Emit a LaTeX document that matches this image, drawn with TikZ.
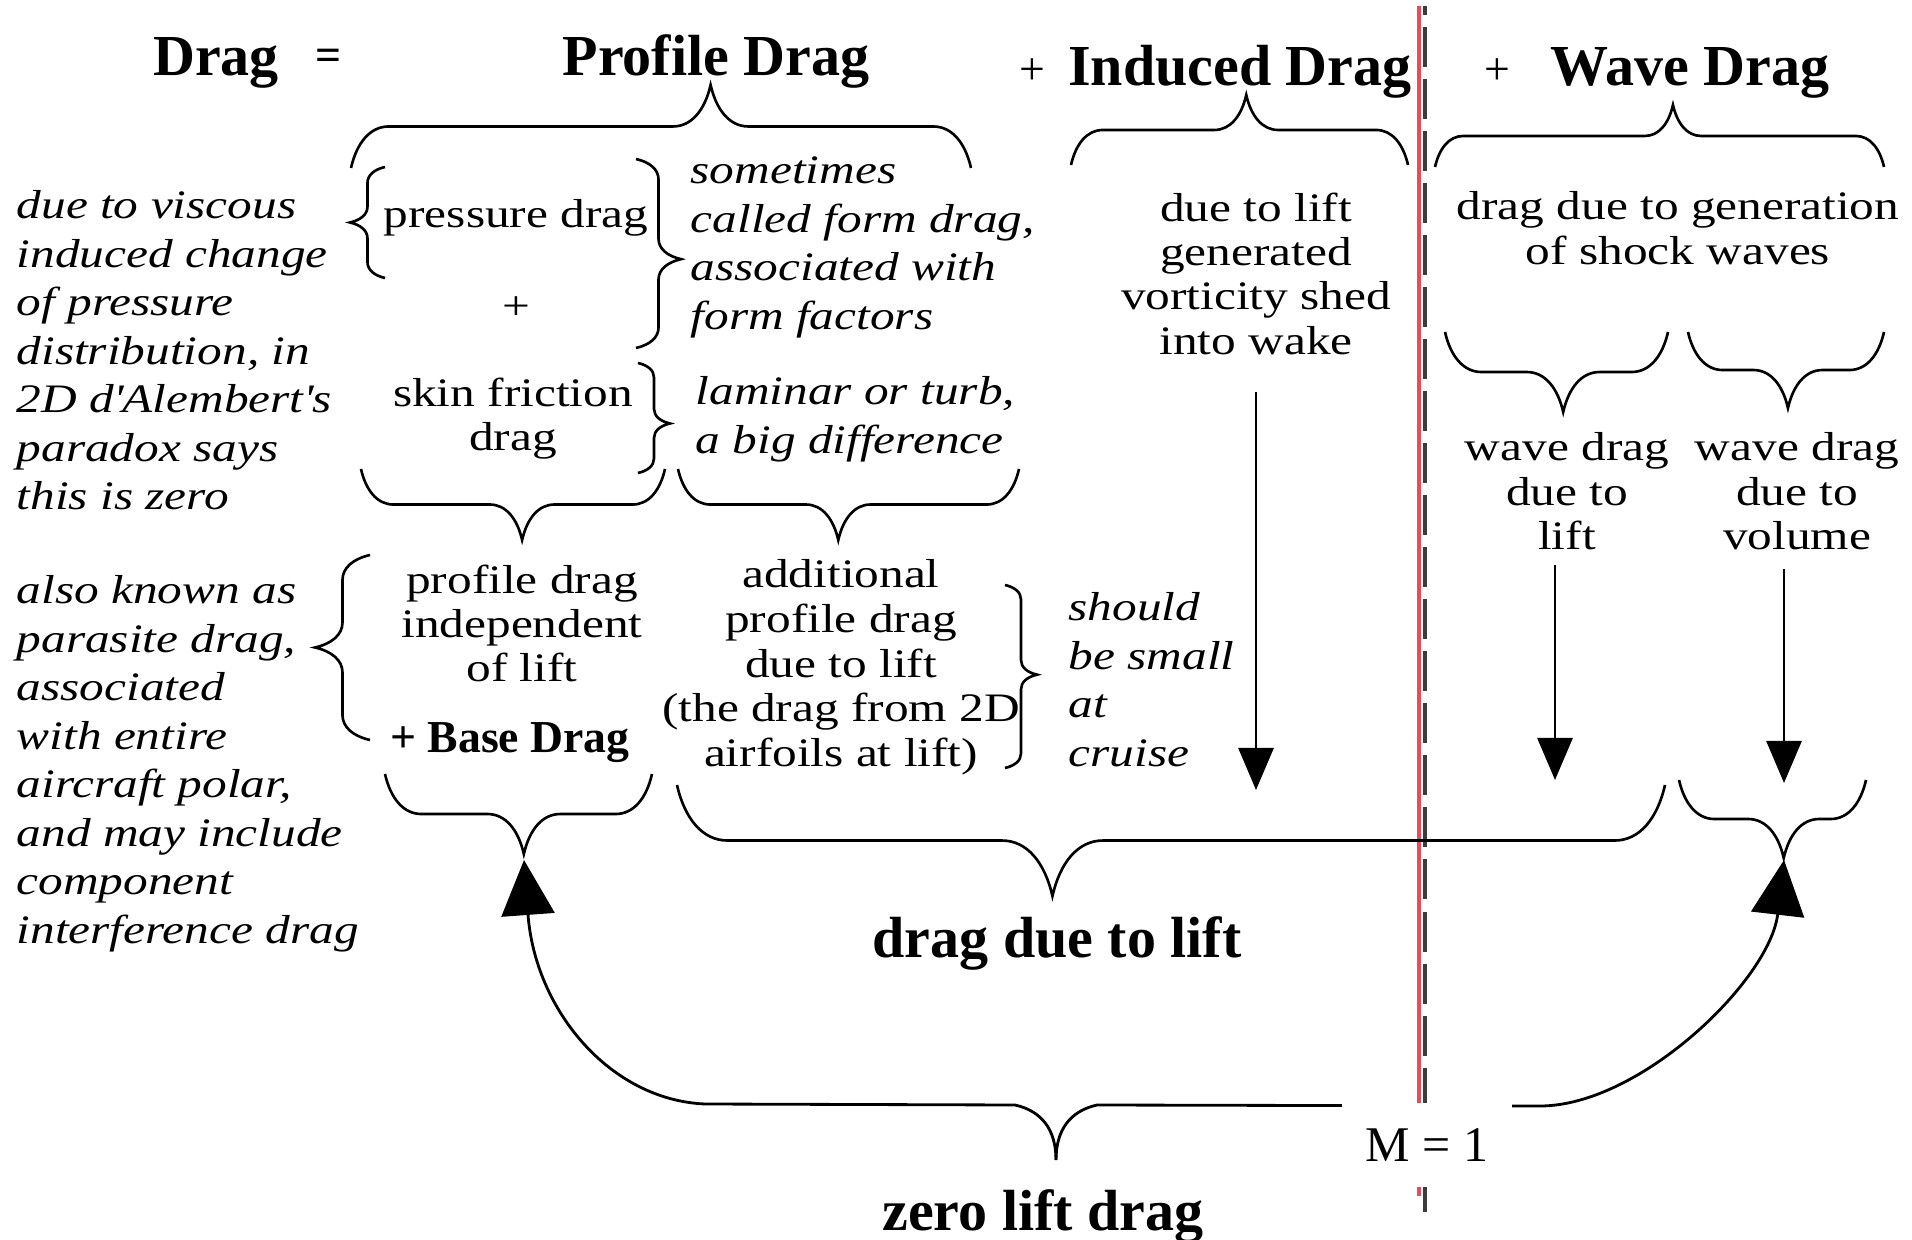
\documentclass[tikz,border=0pt]{standalone}
\usepackage{fontspec}
\setmainfont{Liberation Serif}
\newfontfamily\bodyfont{Liberation Serif}[FakeStretch=1.22]
\usetikzlibrary{positioning, decorations.pathreplacing, arrows.meta}
\definecolor{machred}{RGB}{235,75,85}
\definecolor{dashgray}{RGB}{60,60,60}

\begin{document}
\begin{tikzpicture}[
    x=0.01cm, y=-0.01cm,
    heading/.style={font=\fontsize{16.5}{20}\selectfont\bfseries, inner sep=0pt, anchor=base},
    sign/.style={font=\fontsize{13}{16}\selectfont, inner sep=0pt, anchor=base},
    body/.style={font=\bodyfont\fontsize{11.5}{12.6}\selectfont, align=center, inner sep=0pt, anchor=north, execute at begin node=\strut},
    note/.style={font=\bodyfont\fontsize{11.5}{13.8}\selectfont\itshape, align=left, inner sep=0pt, anchor=north west, execute at begin node=\strut},
    brc/.style={decorate, decoration={brace, amplitude=#1/2.2, transform={yscale=2.2}}, line width=0.75pt},
    dnarr/.style={line width=0.8pt, -{Triangle[length=4.2mm, width=3.5mm]}},
    uparr/.style={line width=0.8pt, -{Triangle[length=5.5mm, width=5.3mm]}},
    mach/.style={line width=1pt, machred},
    machdash/.style={line width=1.1pt, dashgray, dash pattern=on 0.4cm off 0.12cm, dash phase=0.31cm},
    machbox/.style={fill=white, inner sep=0pt, minimum width=1.69cm, minimum height=0.84cm, font=\fontsize{14.2}{17}\selectfont}
]

\path[use as bounding box, fill=white] (0,0) rectangle (1912,1240);

% M = 1 line
\coordinate (mtop) at (1419,6);
\coordinate (mbot) at (1419,1196);
\coordinate (dtop) at (1425,6);
\coordinate (dbot) at (1425,1213);
\draw[mach] (mtop) -- (mbot);
\draw[machdash] (dtop) -- (dbot);

% Title row
\node[heading] (drag) at (216,76) {Drag};
\node[sign, font=\fontsize{13}{16}\selectfont\bfseries] (eq) at (329,71) {=};
\node[heading] (prof) at (716,76) {Profile Drag};
\node[sign] (plusi) at (1032,85) {+};
\node[heading] (ind) at (1240,86) {Induced Drag};
\node[sign] (plusw) at (1497,85) {+};
\node[heading] (wave) at (1690,86) {Wave Drag};

% Braces under the titles
\draw[brc=0.83cm, decoration={aspect=0.58}] (351,168) -- (971,168);
\draw[brc=0.70cm, decoration={aspect=0.52}] (1071,165) -- (1408,165);
\draw[brc=0.62cm, decoration={aspect=0.53}] (1435,167) -- (1884,167);

% Profile drag parts
\node[note] (visc) at (16,190) {due to viscous\\induced change\\of pressure\\distribution, in\\2D d\textquotesingle Alembert\textquotesingle s\\paradox says\\this is zero};
\node[body, anchor=base] (press) at (516,228) {pressure drag};
\node[body, anchor=base] (plusp) at (516,320) {+};
\node[body] (skin) at (513,377) {skin friction\\drag};
\node[note] (form) at (690,156) {sometimes\\called form drag,\\associated with\\form factors};
\node[note] (lam) at (695,376) {laminar or turb,\\a big difference};

\draw[brc=0.35cm] (385,278) -- (385,167);
\draw[brc=0.45cm, decoration={aspect=0.53}] (636,159) -- (636,348);
\draw[brc=0.32cm, decoration={aspect=0.55}] (638,363) -- (638,473);
\draw[brc=0.71cm, decoration={aspect=0.47}] (665,469) -- (361,469);
\draw[brc=0.71cm, decoration={aspect=0.53}] (1019,469) -- (678,469);

% Lift dependent split
\node[note] (parasite) at (16,575) {also known as\\parasite drag,\\associated\\with entire\\aircraft polar,\\and may include\\component\\interference drag};
\node[body] (indep) at (522,564) {profile drag\\independent\\of lift};
\node[heading, font=\fontsize{13}{16}\selectfont\bfseries] (base) at (510,753) {+ Base Drag};
\node[body, font=\bodyfont\fontsize{11.5}{12.7}\selectfont] (addl) at (841,559) {additional\\profile drag\\due to lift\\(the drag from 2D\\airfoils at lift)};
\node[note] (small) at (1068,592) {should\\be small\\at\\cruise};

\draw[brc=0.55cm] (370,740) -- (370,555);
\draw[brc=0.32cm, decoration={aspect=0.49}] (1005,585) -- (1005,768);
\draw[brc=0.80cm, decoration={aspect=0.48}] (652,774) -- (385,774);

% Induced and wave drag
\node[body] (indtxt) at (1256,192) {due to lift\\generated\\vorticity shed\\into wake};
\node[body] (shock) at (1678,191) {drag due to generation\\of shock waves};
\node[body] (wlift) at (1567,432) {wave drag\\due to\\lift};
\node[body] (wvol) at (1797,432) {wave drag\\due to\\volume};

\draw[brc=0.80cm, decoration={aspect=0.47}] (1668,332) -- (1445,332);
\draw[brc=0.76cm, decoration={aspect=0.49}] (1884,332) -- (1688,332);

% Arrow ends
\coordinate (indend) at (1256,790);
\coordinate (wlend) at (1555,780);
\coordinate (wvend) at (1784,783);
\coordinate (basetip) at (524,860);
\coordinate (voltip) at (1784,860);
\coordinate (zltip) at (1056,1160);

\draw[dnarr, shorten <=0.24cm] (indtxt.south -| indend) -- (indend);
\draw[dnarr, shorten <=0.02cm] (wlift.south -| wlend) -- (wlend);
\draw[dnarr, shorten <=0.06cm] (wvol.south -| wvend) -- (wvend);

% Drag due to lift
\draw[brc=1.11cm, decoration={aspect=0.62}] (1665,785) -- (677,785);
\draw[brc=0.78cm, decoration={aspect=0.44}] (1866,780) -- (1679,780);
\node[heading] (dlift) at (1057,957) {drag due to lift};

% Zero lift drag
\draw[uparr] (zltip) .. controls (1056,1130) and (1042,1111) .. (1015,1105) -- (705,1104) .. controls (610,1100) and (535,1010) .. (basetip);
\draw[uparr] (zltip) .. controls (1056,1130) and (1070,1111) .. (1097,1105) -- (1540,1106) .. controls (1640,1106) and (1770,980) .. (voltip);
\node[heading] (zld) at (1043,1230) {zero lift drag};

\node[machbox] (mnum) at (1427,1145) {M = 1};

\end{tikzpicture}
\end{document}
